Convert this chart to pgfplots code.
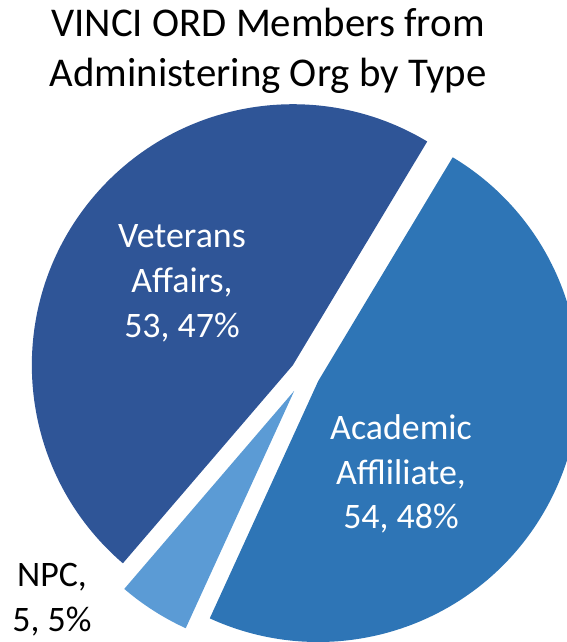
\documentclass[border=0pt]{standalone}
\usepackage{fontspec}
\setmainfont{Carlito}
\usepackage{pgfplots}
\pgfplotsset{compat=1.18}
\usepackage{pgfplotstable}

\definecolor{vaBlue}{HTML}{2F5597}
\definecolor{aaBlue}{HTML}{2E75B6}
\definecolor{npcBlue}{HTML}{5B9BD5}

% slices in clockwise order, starting at 59 degrees
\pgfplotstableread{
name value explode color
AA 54 15 aaBlue
NPC 5 20 npcBlue
VA 53 15 vaBlue
}\slices

\begin{document}
\begin{tikzpicture}
\begin{axis}[
    scale only axis,
    width=567bp, height=642bp,
    xmin=0, xmax=567, ymin=0, ymax=642,
    enlargelimits=false,
    hide axis,
    clip=false,
]
\pgfplotsextra{
    \coordinate (BL) at (axis cs:0,0);
    \coordinate (TR) at (axis cs:567,642);
    \gdef\total{0}
    \foreach \i in {0,1,2}{
        \pgfplotstablegetelem{\i}{value}\of\slices
        \pgfmathsetmacro\tsum{\total+\pgfplotsretval}
        \global\let\total\tsum
    }
    \gdef\curang{59}
    \foreach \i in {0,1,2}{
        \pgfplotstablegetelem{\i}{value}\of\slices \let\val\pgfplotsretval
        \pgfplotstablegetelem{\i}{explode}\of\slices \let\ex\pgfplotsretval
        \pgfplotstablegetelem{\i}{color}\of\slices \let\col\pgfplotsretval
        \pgfmathsetmacro\aend{\curang-\val/\total*360}
        \pgfmathsetmacro\amid{(\curang+\aend)/2}
        \pgfmathsetmacro\ox{305+\ex*cos(\amid)}
        \pgfmathsetmacro\oy{268+\ex*sin(\amid)}
        \fill[fill=\col] (axis cs:\ox,\oy) -- ++(\curang:261bp)
            arc[start angle=\curang, end angle=\aend, radius=261bp] -- cycle;
        \global\let\curang\aend
    }
}
\node[anchor=base, font=\fontsize{41}{50}\selectfont] at (axis cs:268,605) {VINCI ORD Members from};
\node[anchor=base, font=\fontsize{41}{50}\selectfont] at (axis cs:268,555) {Administering Org by Type};
\node[white, align=center, font=\fontsize{36}{45}\selectfont] at (axis cs:182,359) {Veterans\\Affairs,\\53, 47\%};
\node[white, align=center, font=\fontsize{36}{45}\selectfont] at (axis cs:401,168) {Academic\\Affliliate,\\54, 48\%};
\node[black, align=center, font=\fontsize{36}{45}\selectfont] at (axis cs:52,42) {NPC,\\5, 5\%};
\end{axis}
\pgfresetboundingbox
\path[use as bounding box] (BL) rectangle (TR);
\end{tikzpicture}
\end{document}
